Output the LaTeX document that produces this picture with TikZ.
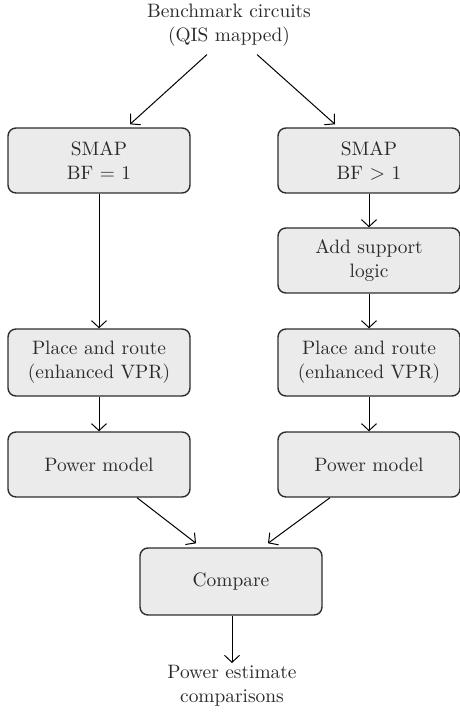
\documentclass[tikz,border=0pt]{standalone}
\usetikzlibrary{arrows.meta,calc}
\definecolor{boxfill}{HTML}{EBEBEB}
\definecolor{boxline}{HTML}{2E2E2E}
\definecolor{txt}{HTML}{2A2A2A}
\begin{document}
\begin{tikzpicture}[x=0.5pt,y=-0.5pt,
  every node/.style={font=\fontsize{9.7}{12}\selectfont, text=txt, align=center},
  procbox/.style={draw=boxline, fill=boxfill, line width=0.7pt, rounded corners=4pt,
    minimum width=91pt, minimum height=32.5pt, inner sep=0pt},
  flow/.style={draw=black, line width=0.5pt, -{Straight Barb[length=3.5pt,width=7.5pt]}},
  plain/.style={inner sep=1pt}]
\useasboundingbox (0,0) rectangle (459,715);
\node[plain] (top) at (229,25) {Benchmark circuits\\(QIS mapped)};
\node[procbox] (L1) at (99,160.5) {SMAP\\BF = 1};
\node[procbox] (R1) at (369,160.5) {SMAP\\BF $>$ 1};
\node[procbox] (R2) at (369,260.5) {Add support\\logic};
\node[procbox, minimum height=33.5pt] (L2) at (99,362.5) {Place and route\\(enhanced VPR)};
\node[procbox, minimum height=33.5pt] (R3) at (369,362.5) {Place and route\\(enhanced VPR)};
\node[procbox] (L3) at (99,464.5) {Power model};
\node[procbox] (R4) at (369,464.5) {Power model};
\node[procbox, minimum height=33.5pt] (C) at (231,581.5) {Compare};
\node[plain, anchor=north] (out) at (232,663) {Power estimate\\comparisons};
\coordinate (tl) at ($(top.south)+(-22,6)$);
\coordinate (tr) at ($(top.south)+(28,6)$);
\draw[flow] (tl) -- ([xshift=15.5pt,yshift=1.5pt]L1.north);
\draw[flow] (tr) -- ([xshift=-17pt,yshift=1.5pt]R1.north);
\draw[flow] (L1.south) -- (L2.north);
\draw[flow] (R1.south) -- (R2.north);
\draw[flow] (R2.south) -- (R3.north);
\draw[flow] (L2.south) -- (L3.north);
\draw[flow] (R3.south) -- (R4.north);
\draw[flow] ([xshift=19pt]L3.south) -- ([xshift=-17.5pt,yshift=2pt]C.north);
\draw[flow] ([xshift=-19.5pt]R4.south) -- ([xshift=18.5pt,yshift=2pt]C.north);
\draw[flow] ([xshift=0.5pt]C.south) -- (out.north);
\end{tikzpicture}
\end{document}
